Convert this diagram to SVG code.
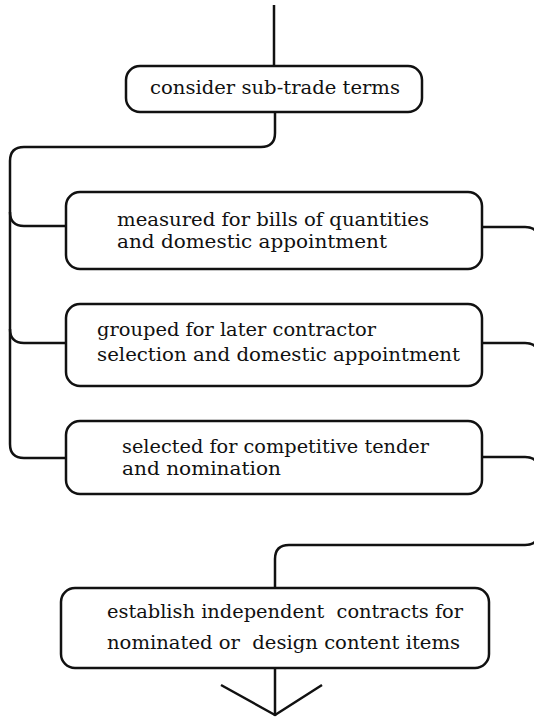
<svg xmlns="http://www.w3.org/2000/svg" width="534" height="717" viewBox="0 0 534 717">
  <style>
    .box { fill: #fff; stroke: #111; stroke-width: 2.5; }
    .wire { fill: none; stroke: #111; stroke-width: 2.5; stroke-linejoin: round; }
    .lbl { font-family: "DejaVu Serif", "Liberation Serif", serif; font-size: 18px; fill: #111; }
  </style>
  <rect width="534" height="717" fill="#fff"/>

  <g id="connectors">
    <path class="wire" d="M274,5 V66"/>
    <!-- left bus feeding the three options -->
    <path class="wire" d="M275,112 V133 Q275,147 261,147 H24 Q10,147 10,161 V444 Q10,458 24,458 H66"/>
    <path class="wire" d="M10,212 Q10,226 24,226 H66"/>
    <path class="wire" d="M10,329 Q10,343 24,343 H66"/>
    <!-- right bus collecting the options (runs just past the right edge) -->
    <path class="wire" d="M482,227 H525 Q539,227 539,241 V531 Q539,545 525,545 H289 Q275,545 275,559 V588"/>
    <path class="wire" d="M482,343 H525 Q539,343 539,357"/>
    <path class="wire" d="M482,457 H525 Q539,457 539,471"/>
    <!-- exit -->
    <path class="wire" d="M275,668 V716"/>
    <path class="wire" d="M221,685 L275,715 L322,685"/>
  </g>

  <g id="n1">
    <rect class="box" x="126" y="66" width="296" height="46" rx="14"/>
    <text class="lbl" x="150" y="94" textLength="250" lengthAdjust="spacingAndGlyphs">consider sub-trade terms</text>
  </g>

  <g id="n2">
    <rect class="box" x="66" y="192" width="416" height="77" rx="14"/>
    <text class="lbl" x="117" y="226" textLength="312" lengthAdjust="spacingAndGlyphs">measured for bills of quantities</text>
    <text class="lbl" x="117" y="248" textLength="270" lengthAdjust="spacingAndGlyphs">and domestic appointment</text>
  </g>

  <g id="n3">
    <rect class="box" x="66" y="304" width="416" height="82" rx="14"/>
    <text class="lbl" x="97" y="336" textLength="279" lengthAdjust="spacingAndGlyphs">grouped for later contractor</text>
    <text class="lbl" x="97" y="361" textLength="363" lengthAdjust="spacingAndGlyphs">selection and domestic appointment</text>
  </g>

  <g id="n4">
    <rect class="box" x="66" y="421" width="416" height="73" rx="14"/>
    <text class="lbl" x="122" y="453" textLength="307" lengthAdjust="spacingAndGlyphs">selected for competitive tender</text>
    <text class="lbl" x="122" y="475" textLength="159" lengthAdjust="spacingAndGlyphs">and nomination</text>
  </g>

  <g id="n5">
    <rect class="box" x="61" y="588" width="428" height="80" rx="14"/>
    <text class="lbl" xml:space="preserve" x="107" y="618" textLength="356" lengthAdjust="spacingAndGlyphs">establish independent  contracts for</text>
    <text class="lbl" xml:space="preserve" x="107" y="649" textLength="353" lengthAdjust="spacingAndGlyphs">nominated or  design content items</text>
  </g>
</svg>
